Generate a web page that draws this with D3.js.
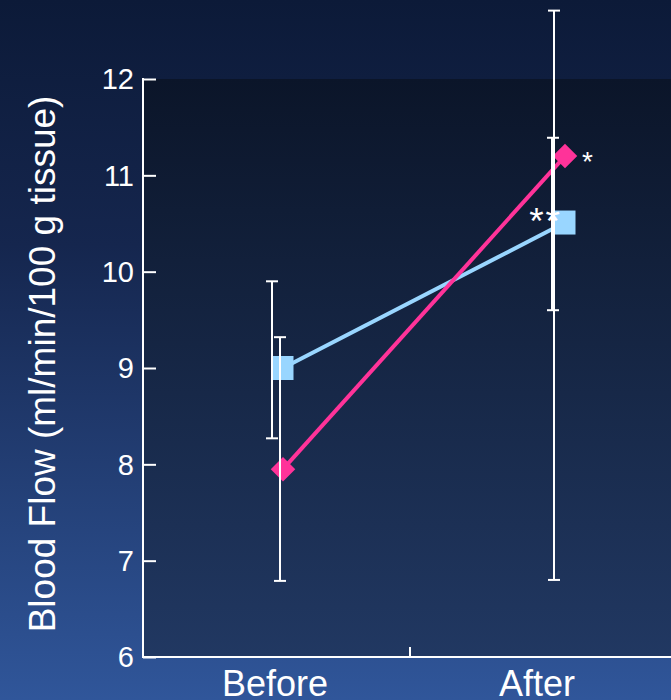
<!DOCTYPE html>
<html>
<head>
<meta charset="utf-8">
<script src="https://cdn.jsdelivr.net/npm/d3@7"></script>
<style>
  html, body { margin: 0; padding: 0; background: #0d1b3a; }
  svg { display: block; }
  text { font-family: "Liberation Sans", Arial, sans-serif; fill: #ffffff; }
</style>
</head>
<body>
<svg id="chart" width="671" height="700"></svg>
<script>
// Blood flow before and after, two groups (mean with error range)
const categories = ["Before", "After"];
const yTicks = [6, 7, 8, 9, 10, 11, 12];
const yTitle = "Blood Flow (ml/min/100 g tissue)";

const pinkMean  = [7.95, 11.20];
const pinkLow   = [6.79, 6.80];
const pinkHigh  = [9.32, 12.71];
const pinkMarks = ["", "*"];

const blueMean  = [9.00, 10.51];
const blueLow   = [8.27, 9.60];
const blueHigh  = [9.90, 11.39];
const blueMarks = ["", "**"];

const W = 671, H = 700;
const svg = d3.select("#chart");

// background gradients
const defs = svg.append("defs");
const bg = defs.append("linearGradient").attr("id", "bg").attr("x1", 0).attr("y1", 0).attr("x2", 0).attr("y2", 1);
bg.append("stop").attr("offset", "0%").attr("stop-color", "#0c1a38");
bg.append("stop").attr("offset", "35%").attr("stop-color", "#15264e");
bg.append("stop").attr("offset", "100%").attr("stop-color", "#30569a");
const pg = defs.append("linearGradient").attr("id", "plotbg").attr("x1", 0).attr("y1", 0).attr("x2", 0).attr("y2", 1);
pg.append("stop").attr("offset", "0%").attr("stop-color", "#0b1529");
pg.append("stop").attr("offset", "100%").attr("stop-color", "#213862");

svg.append("rect").attr("width", W).attr("height", H).attr("fill", "url(#bg)");

const plotLeft = 143, plotTop = 79, plotBottom = 657, plotRight = 677;

const y = d3.scaleLinear().domain([6, 12]).range([plotBottom, plotTop]);
const xBand = d3.scaleBand().domain(categories).range([plotLeft, plotRight]);
const xLabel = d3.scalePoint().domain(categories).range([275, 537]);
const xMark = d3.scalePoint().domain(categories).range([283, 565]);
const xErrPink = d3.scalePoint().domain(categories).range([280, 554]);
const xErrBlue = d3.scalePoint().domain(categories).range([272, 553]);

// plot area
svg.append("rect")
  .attr("x", plotLeft).attr("y", y(12))
  .attr("width", W - plotLeft).attr("height", y(6) - y(12))
  .attr("fill", "url(#plotbg)");

// y axis with inward ticks
const yAxis = svg.append("g").attr("transform", `translate(${plotLeft},0)`)
  .call(d3.axisRight(y).tickValues(yTicks).tickSize(13).tickFormat(""));
yAxis.select(".domain").remove();
yAxis.selectAll("line").attr("stroke", "#fff").attr("stroke-width", 2);
svg.append("line").attr("x1", plotLeft).attr("x2", plotLeft)
  .attr("y1", y(12) - 1).attr("y2", y(6) + 1)
  .attr("stroke", "#fff").attr("stroke-width", 2);

svg.append("g").selectAll("text").data(yTicks).join("text")
  .attr("x", plotLeft - 9).attr("y", d => y(d))
  .attr("dy", "0.36em")
  .attr("text-anchor", "end")
  .attr("font-size", 29)
  .text(d => d);

// x axis
svg.append("line").attr("x1", plotLeft).attr("x2", W)
  .attr("y1", plotBottom).attr("y2", plotBottom)
  .attr("stroke", "#fff").attr("stroke-width", 2);
svg.append("line")
  .attr("x1", xBand("After")).attr("x2", xBand("After"))
  .attr("y1", plotBottom).attr("y2", plotBottom - 10)
  .attr("stroke", "#fff").attr("stroke-width", 2);

svg.append("g").selectAll("text").data(categories).join("text")
  .attr("x", d => xLabel(d))
  .attr("y", 696)
  .attr("text-anchor", "middle")
  .attr("font-size", 36)
  .text(d => d);

// y title
svg.append("text")
  .attr("transform", `translate(55,364) rotate(-90)`)
  .attr("text-anchor", "middle")
  .attr("font-size", 37)
  .text(yTitle);

const PINK = "#ff3399", BLUE = "#99d6ff";

// connecting lines
const line = d3.line().x(d => xMark(d.c)).y(d => y(d.v));
svg.append("path")
  .datum(categories.map((c, i) => ({ c, v: blueMean[i] })))
  .attr("d", line).attr("fill", "none").attr("stroke", BLUE).attr("stroke-width", 4);
svg.append("path")
  .datum(categories.map((c, i) => ({ c, v: pinkMean[i] })))
  .attr("d", line).attr("fill", "none").attr("stroke", PINK).attr("stroke-width", 4);

// markers
svg.append("g").selectAll("rect").data(categories).join("rect")
  .attr("x", d => xMark(d) - 10.5)
  .attr("y", (d, i) => y(blueMean[i]) - 12)
  .attr("width", 21).attr("height", 24)
  .attr("fill", BLUE);
svg.append("g").selectAll("path").data(categories).join("path")
  .attr("d", d3.symbol(d3.symbolSquare, 300))
  .attr("transform", (d, i) => `translate(${xMark(d)},${y(pinkMean[i])}) rotate(45)`)
  .attr("fill", PINK);

// significance marks
svg.append("g").selectAll("text").data(categories).join("text")
  .attr("x", d => xMark(d) + 17)
  .attr("y", (d, i) => y(pinkMean[i]) + 15)
  .attr("font-size", 28)
  .text((d, i) => pinkMarks[i]);
svg.append("g").selectAll("text").data(categories).join("text")
  .attr("x", d => xMark(d) - 3)
  .attr("y", (d, i) => y(blueMean[i]) + 11)
  .attr("text-anchor", "end")
  .attr("font-size", 37)
  .attr("letter-spacing", 2)
  .text((d, i) => blueMarks[i]);

// error bars
function errorBars(xs, lo, hi, w) {
  const g = svg.append("g").attr("stroke", "#fff").attr("stroke-width", 2);
  categories.forEach((c, i) => {
    const cx = xs(c);
    g.append("line").attr("x1", cx).attr("x2", cx)
      .attr("y1", y(lo[i])).attr("y2", y(hi[i])).attr("stroke-width", w[i]);
    g.append("line").attr("x1", cx - 6).attr("x2", cx + 6)
      .attr("y1", y(lo[i])).attr("y2", y(lo[i]));
    g.append("line").attr("x1", cx - 6).attr("x2", cx + 6)
      .attr("y1", y(hi[i])).attr("y2", y(hi[i]));
  });
}
errorBars(xErrBlue, blueLow, blueHigh, [2, 4]);
errorBars(xErrPink, pinkLow, pinkHigh, [2, 2]);
</script>
</body>
</html>
